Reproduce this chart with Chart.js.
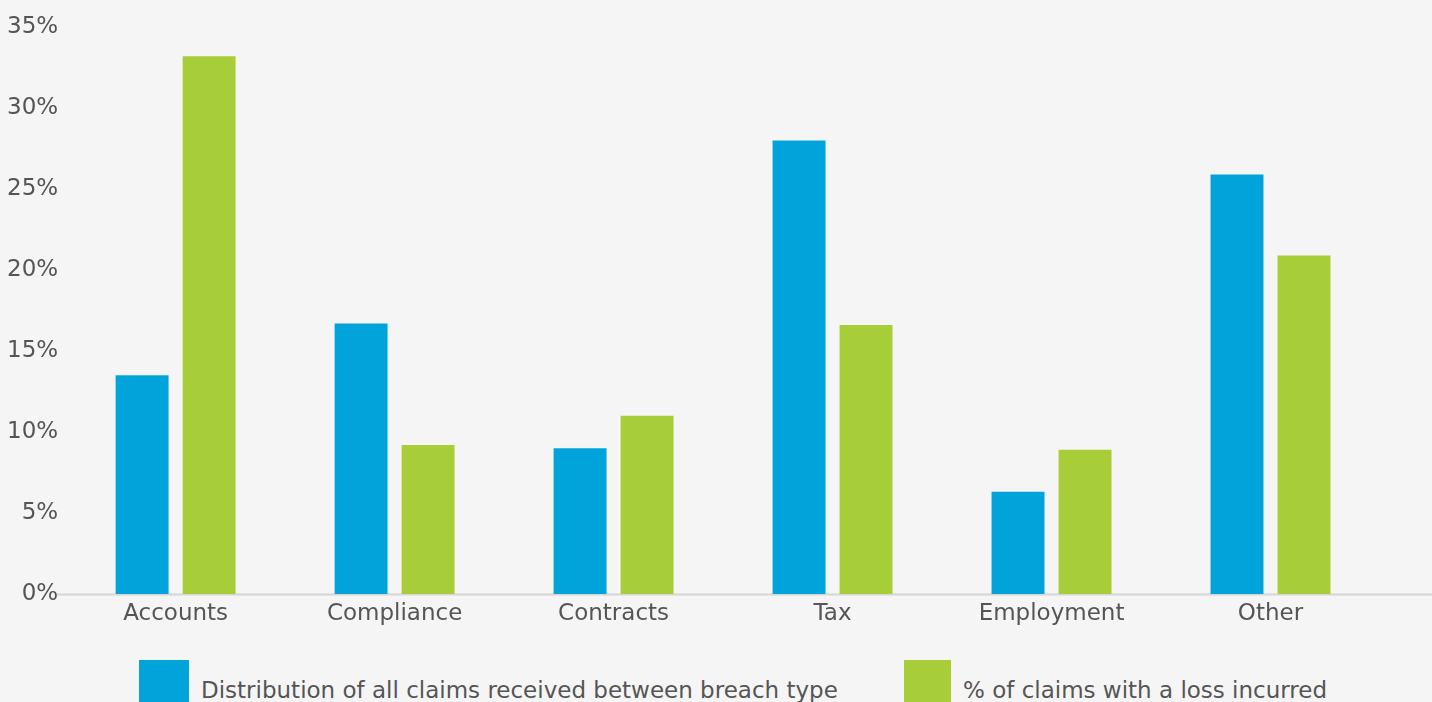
<!DOCTYPE html>
<html>
<head>
<meta charset="utf-8">
<script src="https://cdn.jsdelivr.net/npm/chart.js@4"></script>
<style>
  html, body { margin: 0; padding: 0; background: #f5f5f5; overflow: hidden; }
  #wrap { position: relative; width: 1432px; height: 702px; }
  #grafico { position: absolute; left: 0; top: 0; }
  .leg { position: absolute; font: 23px "DejaVu Sans", sans-serif; color: #555; white-space: nowrap; line-height: 28px; }
  .box { position: absolute; top: 660px; height: 50px; }
</style>
</head>
<body>
<div id="wrap">
  <canvas id="grafico" width="1432" height="640"></canvas>
  <div class="box" style="left:139px;width:50px;background:#00a4db"></div>
  <div class="leg" style="left:201px;top:676px">Distribution of all claims received between breach type</div>
  <div class="box" style="left:904px;width:47px;background:#a7ce39"></div>
  <div class="leg" style="left:963px;top:676px">% of claims with a loss incurred</div>
</div>
<script>
  const categorias = ['Accounts', 'Compliance', 'Contracts', 'Tax', 'Employment', 'Other'];
  const distribuicao = [13.5, 16.7, 9.0, 28.0, 6.3, 25.9];
  const comPerda = [33.2, 9.2, 11.0, 16.6, 8.9, 20.9];
  const nomesSeries = ['Distribution of all claims received between breach type', '% of claims with a loss incurred'];

  const fonte = { family: '"DejaVu Sans", sans-serif', size: 23 };

  // linha base do eixo, estendida ate a borda direita
  const linhaBase = {
    id: 'linhaBase',
    beforeDatasetsDraw(chart) {
      const { ctx, scales: { y } } = chart;
      const yy = Math.round(y.getPixelForValue(0)) + 0.5;
      ctx.save();
      ctx.strokeStyle = '#d6d6d6';
      ctx.lineWidth = 2;
      ctx.beginPath();
      ctx.moveTo(57, yy);
      ctx.lineTo(chart.width, yy);
      ctx.stroke();
      ctx.restore();
    }
  };

  const ctx = document.getElementById('grafico').getContext('2d');
  new Chart(ctx, {
    type: 'bar',
    data: {
      labels: categorias,
      datasets: [
        { label: nomesSeries[0], data: distribuicao, backgroundColor: '#00a4db', categoryPercentage: 0.612, barPercentage: 0.79 },
        { label: nomesSeries[1], data: comPerda, backgroundColor: '#a7ce39', categoryPercentage: 0.612, barPercentage: 0.79 }
      ]
    },
    options: {
      responsive: false,
      animation: false,
      layout: { padding: { left: -1, right: 52, top: 27, bottom: 6.5 } },
      plugins: { legend: { display: false }, tooltip: { enabled: false } },
      scales: {
        x: {
          grid: { display: false, drawTicks: false },
          border: { display: false },
          ticks: { color: '#555', font: fonte, padding: 6 }
        },
        y: {
          min: 0,
          max: 35,
          grid: { display: false, drawTicks: false },
          border: { display: false },
          ticks: { stepSize: 5, color: '#555', font: fonte, padding: 8, callback: v => v + '%' }
        }
      }
    },
    plugins: [linhaBase]
  });
</script>
</body>
</html>
